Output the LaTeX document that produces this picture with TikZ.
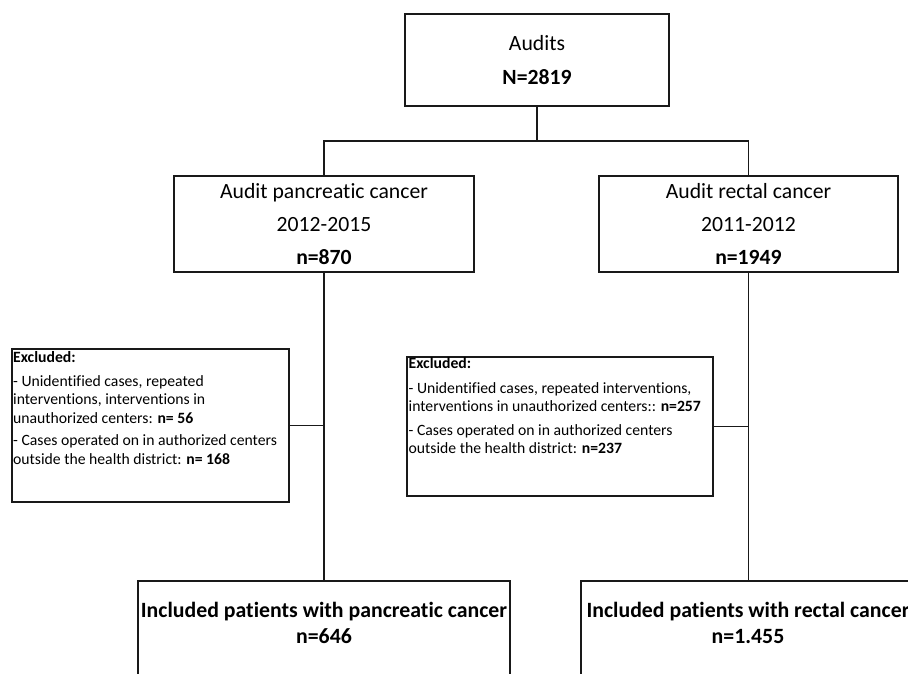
\documentclass[tikz,border=0pt]{standalone}
\usepackage{fontspec}
\setmainfont{Carlito}[Ligatures=NoCommon]
\begin{document}
\begin{tikzpicture}[x=1pt,y=-1pt,
  box/.style={draw=black!90, line width=1.6pt, rectangle, inner sep=0pt},
  link/.style={draw=black!90, line width=1.6pt},
  big/.style={font=\fontsize{21.7}{33}\selectfont, align=center, inner sep=0pt},
  small/.style={font=\fontsize{15.7}{18.3}\selectfont, align=left, inner sep=0pt, anchor=north west}]
\useasboundingbox (0,0) rectangle (908,673);
\clip (0,0) rectangle (908,673);
\fill[white] (0,0) rectangle (908,673);
% top box
\node[box, big, font=\fontsize{21.7}{34}\selectfont, minimum width=264pt, minimum height=92pt] (audits) at (537,60) {Audits\\\textbf{N=2819}};
% second level
\node[box, big, minimum width=300pt, minimum height=96pt] (panc) at (324,224) {Audit pancreatic cancer\\2012-2015\\\textbf{n=870}};
\node[box, big, minimum width=299pt, minimum height=96pt] (rect) at (748.5,224) {Audit rectal cancer\\2011-2012\\\textbf{n=1949}};
% exclusion boxes
\node[box, minimum width=277pt, minimum height=153pt] (exc1) at (150.5,425.5) {};
\node[small] (exc1t) at (13,351.5) {\textbf{Excluded:}\\[5.5pt]- Unidentified cases, repeated\\interventions, interventions in\\unauthorized centers: \textbf{n= 56}\\[4.5pt]- Cases operated on in authorized centers\\outside the health district: \textbf{n= 168}};
\node[box, minimum width=306pt, minimum height=139pt] (exc2) at (560,426.5) {};
\node[small] (exc2t) at (408.5,357) {\textbf{Excluded:}\\[6.5pt]- Unidentified cases, repeated interventions,\\interventions in unauthorized centers:: \textbf{n=257}\\[6pt]- Cases operated on in authorized centers\\outside the health district: \textbf{n=237}};
% included boxes
\node[box, minimum width=372pt, minimum height=140pt] (inc1) at (324,651) {};
\node[big, font=\fontsize{21.8}{26}\selectfont\bfseries] (inc1t) at (324,623) {Included patients with pancreatic cancer\\n=646};
\node[box, minimum width=334pt, minimum height=140pt] (inc2) at (748,651) {};
\node[big, font=\fontsize{21.8}{26}\selectfont\bfseries] (inc2t) at (748,623) {Included patients with rectal cancer\\n=1.455};
% connectors
\coordinate (j) at (537,141);
\draw[link] (audits.south) -- (j);
\draw[link] (panc.north) |- (j) -| (rect.north);
\draw[link] (panc.south) -- (inc1.north);
\draw[link] (rect.south) -- (rect.south |- inc2.north);
\draw[link] (exc1.east) -- (exc1.east -| panc.south);
\draw[link] (exc2.east) -- (exc2.east -| rect.south);
\end{tikzpicture}
\end{document}
